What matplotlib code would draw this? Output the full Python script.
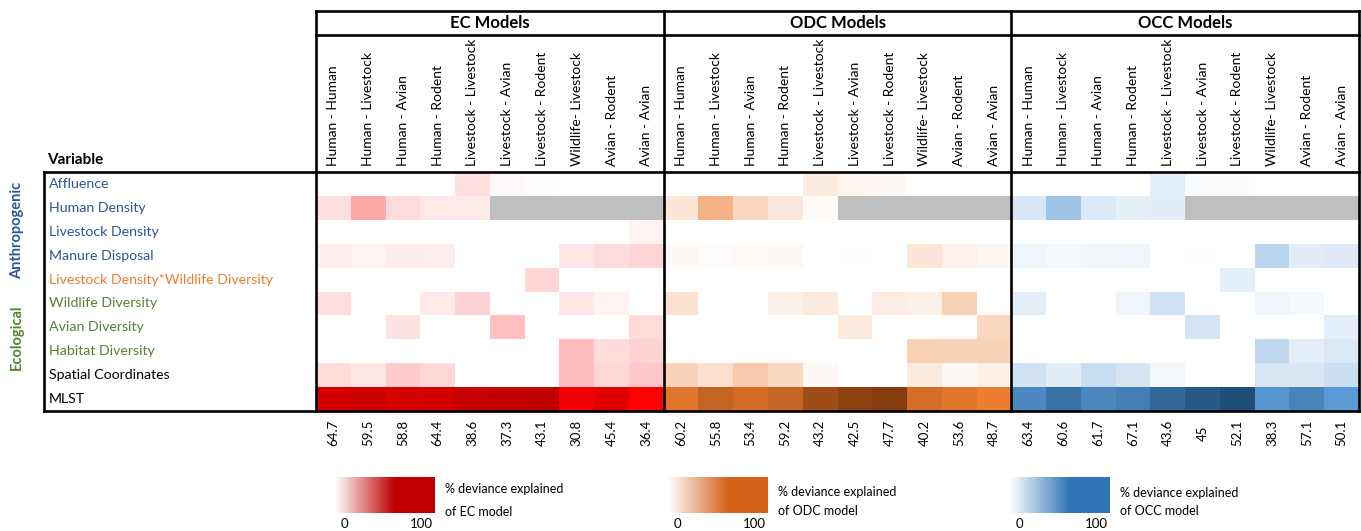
import numpy as np
import matplotlib.pyplot as plt
from matplotlib.colors import LinearSegmentedColormap
from matplotlib.transforms import blended_transform_factory

plt.rcParams['font.family'] = ['Lato', 'DejaVu Sans']

W, H = 1361, 531

variables = ['Affluence', 'Human Density', 'Livestock Density', 'Manure Disposal',
             'Livestock Density*Wildlife Diversity', 'Wildlife Diversity',
             'Avian Diversity', 'Habitat Diversity', 'Spatial Coordinates', 'MLST']
var_colors = ['#2F5597'] * 4 + ['#ED7D31'] + ['#548235'] * 3 + ['black'] * 2

pairs = ['Human - Human', 'Human - Livestock', 'Human - Avian', 'Human - Rodent',
         'Livestock - Livestock', 'Livestock - Avian', 'Livestock - Rodent',
         'Wildlife- Livestock', 'Avian - Rodent', 'Avian - Avian']
groups = ['EC Models', 'ODC Models', 'OCC Models']

nan = np.nan
# % deviance explained by each variable (rows) for each host pair (columns)
ec_vals = [
    [0, 0, 0, 0, 7, 1.5, 0.6, 0, 0, 0],
    [7, 19, 8, 5, 5, nan, nan, nan, nan, nan],
    [0, 0, 0, 0, 0.3, 0, 0, 0, 0, 2.8],
    [3.7, 2.8, 4.3, 4, 0, 0, 0, 5.4, 8, 9],
    [0, 0, 0, 0, 0, 0, 9, 0, 0, 0],
    [7.3, 0, 0, 5, 9.7, 0, 0, 5.4, 2.8, 0],
    [0, 0, 6.3, 0, 0, 13.8, 0, 0, 0, 8.2],
    [0, 0, 0, 0, 0, 0, 0, 14.2, 8, 9.5],
    [8.2, 5.4, 11, 8.6, 0, 0, 0, 14.2, 8.6, 11.9],
    [85, 91, 84.5, 86.6, 95, 96.5, 100, 65.5, 76.8, 55],
]
odc_vals = [
    [0, 0, 0, 0, 8.9, 5, 3, 0, 0, 0],
    [11, 33, 17, 10, 2, nan, nan, nan, nan, nan],
    [0, 0, 0, 0, 0, 0, 0, 0, 0, 0],
    [2.5, 1.5, 2, 2.5, 0, 0.5, 0, 11, 6, 4],
    [0, 0, 0, 0, 0, 0, 0, 0, 0, 0],
    [12.7, 0, 0, 6.3, 9.3, 0, 8, 6.3, 20, 0],
    [0, 0, 0, 0, 0, 9.3, 0, 0, 0, 17],
    [0, 0, 0, 0, 0, 0, 0, 20, 19.5, 19],
    [18.6, 13, 22.4, 17, 2.5, 0, 0, 9.3, 3, 6.3],
    [60.6, 72.6, 66.6, 71.8, 88, 95.7, 100, 66, 60.6, 55],
]
occ_vals = [
    [0, 0, 0, 0, 9.4, 1.7, 1.7, 0, 0, 0],
    [13.7, 32.9, 12.4, 9, 10, nan, nan, nan, nan, nan],
    [0, 0, 0, 0, 0, 0, 0, 0, 0, 0],
    [5.7, 3.7, 5, 5.7, 0, 1, 0, 23.5, 10.4, 11.7],
    [0, 0, 0, 0, 0, 0, 8.7, 0, 0, 0],
    [9.7, 0, 0, 5.7, 16.4, 0, 0, 5.7, 3.7, 0],
    [0, 0, 0, 0, 0, 15, 0, 0, 0, 9.4],
    [0, 0, 0, 0, 0, 0, 0, 22, 9.7, 12.7],
    [15.8, 10, 19, 14.4, 4.4, 0, 0, 14, 13, 17.8],
    [66, 79.5, 67.8, 72, 85, 93, 100, 58, 68.4, 55],
]

# total % deviance explained by each model
ec_total = [64.7, 59.5, 58.8, 64.4, 38.6, 37.3, 43.1, 30.8, 45.4, 36.4]
odc_total = [60.2, 55.8, 53.4, 59.2, 43.2, 42.5, 47.7, 40.2, 53.6, 48.7]
occ_total = [63.4, 60.6, 61.7, 67.1, 43.6, 45, 52.1, 38.3, 57.1, 50.1]

cmaps = [
    LinearSegmentedColormap.from_list('ec', [(0, '#FFFFFF'), (0.55, '#FF0000'), (1, '#BF0000')]),
    LinearSegmentedColormap.from_list('odc', [(0, '#FFFFFF'), (0.55, '#ED7D31'), (1, '#843C0C')]),
    LinearSegmentedColormap.from_list('occ', [(0, '#FFFFFF'), (0.55, '#5B9BD5'), (1, '#1F4E79')]),
]
cmaps = [c.with_extremes(bad='#BFBFBF') for c in cmaps]
legend_colors = ['#C00000', '#D5621A', '#2E75B6']
legend_names = ['EC', 'ODC', 'OCC']


def px_axes(x, y, w, h):
    return fig.add_axes([x / W, 1 - (y + h) / H, w / W, h / H])


fig = plt.figure(figsize=(W / 100, H / 100), dpi=100)

# overlay in pixel units for the table frame and labels
frame = fig.add_axes([0, 0, 1, 1], zorder=5)
frame.set_xlim(0, W)
frame.set_ylim(H, 0)
frame.axis('off')
frame.patch.set_alpha(0)

ax = px_axes(316, 172, 1043, 239)
for g, (vals, cmap) in enumerate(zip([ec_vals, odc_vals, occ_vals], cmaps)):
    arr = np.ma.masked_invalid(np.array(vals, dtype=float))
    ax.pcolormesh(np.arange(11) + 10 * g, np.arange(11), arr, cmap=cmap, vmin=0, vmax=100)
ax.set_xlim(0, 30)
ax.set_ylim(10, 0)
for s in ax.spines.values():
    s.set_visible(False)
ax.tick_params(length=0, labelbottom=False, labelleft=False, labeltop=True, pad=4)
ax.set_xticks(np.arange(30) + 0.5, labels=pairs * 3, rotation=90, fontsize=10)
ax.set_yticks([])

xdata_ypx = blended_transform_factory(ax.transData, frame.transData)
xpx_ydata = blended_transform_factory(frame.transData, ax.transData)

# table lines
lw = 1.9
frame.plot([316, 1359], [11, 11], color='black', lw=lw)
frame.plot([316, 1359], [35, 35], color='black', lw=lw)
frame.plot([44, 1359], [172, 172], color='black', lw=lw)
frame.plot([44, 1359], [411, 411], color='black', lw=lw)
frame.plot([44, 44], [172, 411], color='black', lw=lw)
for xb in [0, 10, 20, 30]:
    frame.plot([xb, xb], [11, 411], color='black', lw=lw, transform=xdata_ypx)

for g, name in enumerate(groups):
    frame.text(10 * g + 5, 23, name, transform=xdata_ypx, ha='center', va='center',
               fontsize=12, fontweight='bold')

for i, total in enumerate(ec_total + odc_total + occ_total):
    frame.text(i + 0.5, 433, f'{total:g}', transform=xdata_ypx, ha='center', va='center',
               rotation=90, fontsize=9.5)

frame.text(47, 160, 'Variable', ha='left', va='center', fontsize=11, fontweight='bold')
for r, (name, col) in enumerate(zip(variables, var_colors)):
    frame.text(49, r + 0.5, name, transform=xpx_ydata, ha='left', va='center',
               fontsize=10.2, color=col)
frame.text(17, 230, 'Anthropogenic', rotation=90, ha='center', va='center',
           fontsize=10.5, fontweight='bold', color='#2F5597')
frame.text(17, 337, 'Ecological', rotation=90, ha='center', va='center',
           fontsize=10.5, fontweight='bold', color='#548235')

# gradient legends
legend_x = [335, 668, 1010]
text_y = [(489, 512), (492, 511), (493, 511)]
for lx, col, name, ty in zip(legend_x, legend_colors, legend_names, text_y):
    lcmap = LinearSegmentedColormap.from_list('leg', [(0, '#FFFFFF'), (0.6, col), (1, col)])
    cax = px_axes(lx, 477, 100, 36)
    cax.imshow(np.linspace(0, 1, 256)[None, :], cmap=lcmap, aspect='auto',
               extent=[0, 100, 0, 1])
    cax.axis('off')
    frame.text(lx + 9, 524, '0', ha='center', va='center', fontsize=9.5)
    frame.text(lx + 86, 524, '100', ha='center', va='center', fontsize=9.5)
    frame.text(lx + 110, ty[0], '% deviance explained', ha='left', va='center', fontsize=9)
    frame.text(lx + 110, ty[1], f'of {name} model', ha='left', va='center', fontsize=9)

fig.savefig('out.png', dpi=100)
